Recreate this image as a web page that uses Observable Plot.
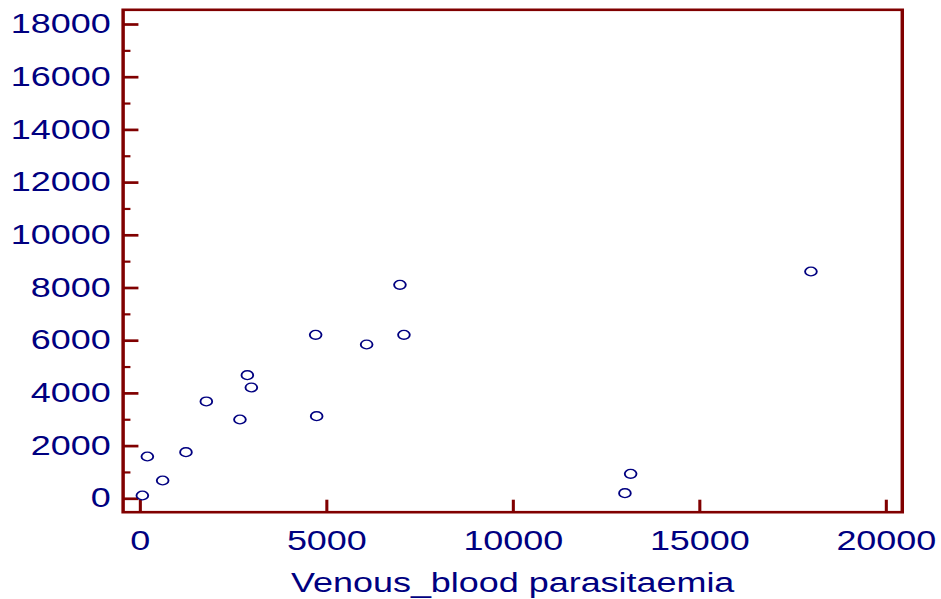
<!DOCTYPE html>
<html>
<head>
<meta charset="utf-8">
<script src="https://cdn.jsdelivr.net/npm/d3@7"></script>
<script src="https://cdn.jsdelivr.net/npm/@observablehq/plot@0.6"></script>
<style>
  html, body { margin: 0; padding: 0; background: #ffffff; overflow: hidden; }
  #chart { width: 941px; height: 599px; overflow: hidden; }
  #chart svg { transform-origin: 0 0; transform: scaleX(1.331); }
</style>
</head>
<body>
<div id="chart"></div>
<script>
// Data
const venousParasitaemia = [54, 188, 598, 1223, 1769, 2670, 2869, 2976, 4700, 4727, 6067, 6960, 7067, 12992, 13145, 17979];
const otherParasitaemia  = [125, 1605, 694, 1768, 3693, 3009, 4691, 4224, 6224, 3135, 5856, 8121, 6224, 213, 949, 8626];
const xTicks = [0, 5000, 10000, 15000, 20000];
const yTicks = [0, 2000, 4000, 6000, 8000, 10000, 12000, 14000, 16000, 18000];
const yMinorTicks = [1000, 3000, 5000, 7000, 9000, 11000, 13000, 15000, 17000];
const xLabel = "Venous_blood parasitaemia";

const points = venousParasitaemia.map((x, i) => ({x, y: otherParasitaemia[i]}));

const W = 707, H = 599;
const mL = 92, mR = 29.6, mT = 9.3, mB = 87.3;
const plotW = W - mL - mR, plotH = H - mT - mB;
const navy = "#000080", maroon = "#800000";
const fs = 27;

const chart = Plot.plot({
  width: W,
  height: H,
  marginLeft: mL,
  marginRight: mR,
  marginTop: mT,
  marginBottom: mB,
  style: {fontFamily: "'Liberation Sans', Arial, sans-serif", fontSize: fs + "px", background: "#ffffff", color: navy},
  x: {domain: [-462, 20428]},
  y: {domain: [-509, 18558]},
  marks: [
    Plot.ruleY(yMinorTicks, {y: d => d, stroke: maroon, strokeWidth: 2.2, insetRight: plotW - 6}),
    Plot.ruleY(yTicks, {y: d => d, stroke: maroon, strokeWidth: 2.7, insetRight: plotW - 12}),
    Plot.ruleX(xTicks, {x: d => d, stroke: maroon, strokeWidth: 2.3, insetTop: plotH - 12}),
    Plot.frame({stroke: maroon, strokeWidth: 2.6}),
    Plot.axisY(yTicks, {tickSize: 0, tickPadding: 9.3, fontSize: fs, color: navy, tickFormat: d => String(d), label: null}),
    Plot.axisX(xTicks, {tickSize: 0, tickPadding: 19, fontSize: fs, color: navy, tickFormat: d => String(d), label: null}),
    Plot.text([xLabel], {text: d => d, frameAnchor: "bottom", dy: 80, lineAnchor: "bottom", fontSize: fs, fill: navy}),
    Plot.dot(points, {x: "x", y: "y", r: 4.4, stroke: navy, strokeWidth: 1.4, fill: "none"})
  ]
});

document.getElementById("chart").appendChild(chart);
</script>
</body>
</html>
